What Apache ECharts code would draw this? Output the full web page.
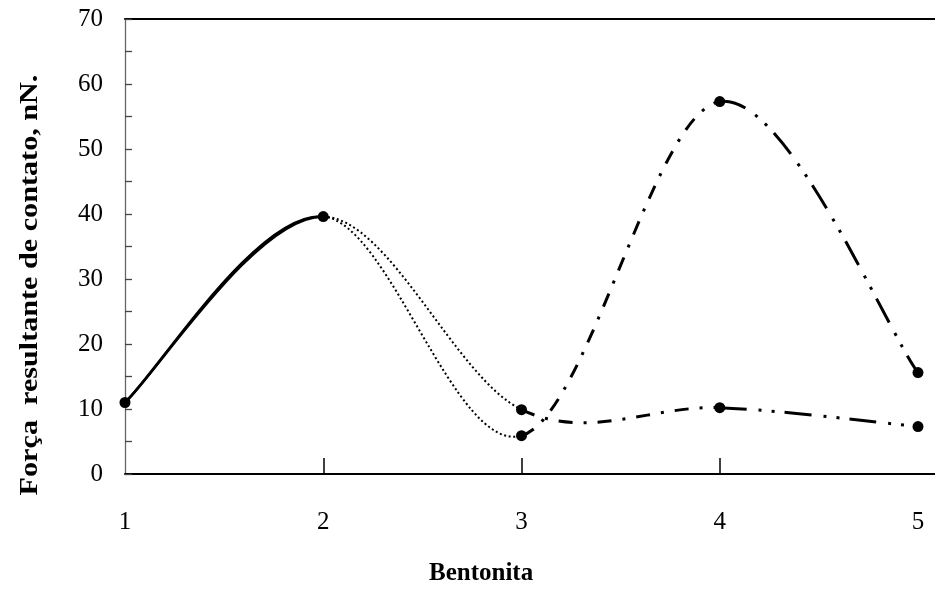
<!DOCTYPE html>
<html>
<head>
<meta charset="utf-8">
<script src="https://cdn.jsdelivr.net/npm/echarts@6/dist/echarts.min.js"></script>
<style>
  html, body { margin: 0; padding: 0; background: #fff; }
  #chart { width: 935px; height: 589px; }
</style>
</head>
<body>
<div id="chart"></div>
<script>
  // valores
  const bentonita = [1, 2, 3, 4, 5]
  const serieA = [11, 39.6, 9.9, 10.2, 7.3]
  const serieB = [11, 39.6, 5.9, 57.3, 15.6]
  const rotulosY = [0, 10, 20, 30, 40, 50, 60, 70]

  // estilo de cada trecho (1-2, 2-3, 3-4, 4-5)
  const trechos = [
    { dash: null, width: 2.6 },
    { dash: [2, 2.6], width: 2 },
    { dash: [14, 11, 3, 11], width: 3 },
    { dash: [27, 12, 3, 10, 3, 10], width: 3 }
  ]

  const FONT = '"Liberation Serif", "Times New Roman", serif'
  const LEFT = 125, STEP = 198.25, W = 935

  const chart = echarts.init(document.getElementById('chart'))

  // curva suavizada tipo Excel (Bezier com tangentes de Catmull-Rom), um trecho por item
  function desenhaTrecho(vals) {
    return function (params, api) {
      const k = params.dataIndex
      const P = bentonita.map((x, i) => api.coord([x, vals[i]]))
      const a = P[Math.max(k - 1, 0)], b = P[k], c = P[k + 1], d = P[Math.min(k + 2, P.length - 1)]
      const t = 1 / 6
      const st = trechos[k]
      return {
        type: 'bezierCurve',
        shape: {
          x1: b[0], y1: b[1],
          cpx1: b[0] + (c[0] - a[0]) * t, cpy1: b[1] + (c[1] - a[1]) * t,
          cpx2: c[0] - (d[0] - b[0]) * t, cpy2: c[1] - (d[1] - b[1]) * t,
          x2: c[0], y2: c[1]
        },
        style: { stroke: '#000', fill: 'none', lineWidth: st.width, lineDash: st.dash }
      }
    }
  }

  const curvas = [serieA, serieB].map(vals => ({
    type: 'custom',
    renderItem: desenhaTrecho(vals),
    data: bentonita.slice(0, 4).map((x, k) => [x, vals[k]]),
    silent: true
  }))

  chart.setOption({
    animation: false,
    grid: { left: LEFT, right: 0, top: 19, bottom: 115 },
    xAxis: [
      {
        type: 'value', min: 1, max: 1 + (W - LEFT) / STEP,
        axisLine: { lineStyle: { color: '#000', width: 2 } },
        axisTick: { inside: true, length: 16, customValues: [2, 3, 4], lineStyle: { color: '#000', width: 1.5 } },
        axisLabel: { customValues: bentonita, margin: 36, color: '#000', fontSize: 25, fontFamily: FONT },
        splitLine: { show: false }
      },
      {
        type: 'value', position: 'top', min: 1, max: 1 + (W - LEFT) / STEP,
        axisLine: { show: true, lineStyle: { color: '#000', width: 2 } },
        axisTick: { show: false }, axisLabel: { show: false }, splitLine: { show: false }
      }
    ],
    yAxis: {
      type: 'value', min: 0, max: 70, interval: 5,
      axisLine: { show: true, lineStyle: { color: '#666', width: 1.3 } },
      axisTick: { inside: true, length: 7, lineStyle: { color: '#444', width: 1.3 } },
      axisLabel: {
        margin: 22, color: '#000', fontSize: 25, fontFamily: FONT,
        formatter: v => rotulosY.includes(v) ? String(v) : ''
      },
      splitLine: { show: false }
    },
    series: curvas.concat([{
      type: 'scatter', symbolSize: 11, silent: true,
      itemStyle: { color: '#000', opacity: 1 },
      data: bentonita.map((x, k) => [x, serieA[k]])
        .concat(bentonita.slice(2).map((x, k) => [x, serieB[k + 2]]))
    }]),
    graphic: [
      {
        type: 'text', left: 429, top: 561,
        style: { text: 'Bentonita', font: 'bold 25px ' + FONT, fill: '#000' }
      },
      {
        type: 'text', x: 30, y: 285, rotation: Math.PI / 2, scaleX: 1.16,
        style: { text: 'Força  resultante de contato, nN.', font: 'bold 26px ' + FONT, fill: '#000', align: 'center', verticalAlign: 'middle' }
      }
    ]
  })
</script>
</body>
</html>
